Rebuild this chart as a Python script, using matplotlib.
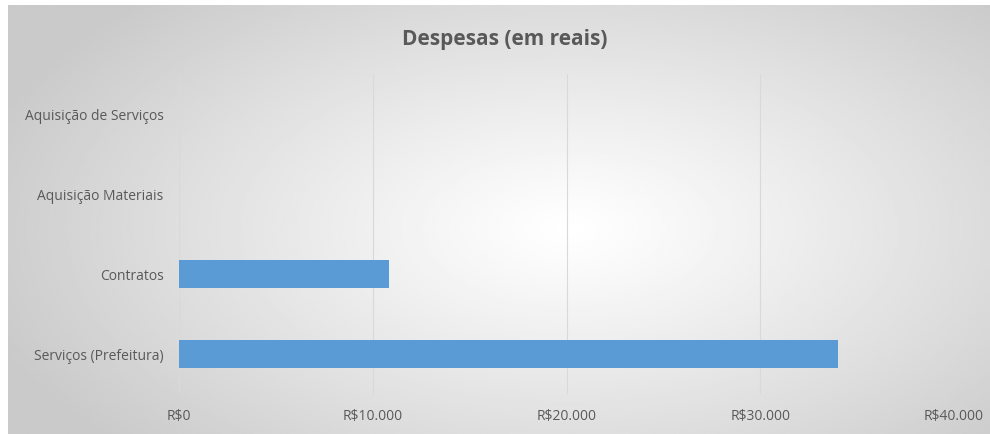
import numpy as np
import matplotlib.pyplot as plt

# data
categories = ["Serviços (Prefeitura)", "Contratos", "Aquisição Materiais", "Aquisição de Serviços"]
values = [34000, 10850, 0, 0]
xticks = [0, 10000, 20000, 30000, 40000]
xticklabels = ["R$0", "R$10.000", "R$20.000", "R$30.000", "R$40.000"]

W, H = 990, 435
fig = plt.figure(figsize=(W / 100, H / 100), dpi=100)
fig.patch.set_facecolor("white")

# chart area with radial gradient background
bg = fig.add_axes([8 / W, 0, 1 - 8 / W, 1 - 6 / H])
yy, xx = np.mgrid[0:200, 0:400]
cx, cy = 0.57 * 400, 0.52 * 200
r = np.sqrt(((xx - cx) / 250) ** 2 + ((yy - cy) / 150) ** 2)
shade = 1 - 0.21 * np.clip(r, 0, 1) ** 1.1
bg.imshow(shade, cmap="gray", vmin=0, vmax=1, aspect="auto", extent=[0, 1, 0, 1])
bg.set_axis_off()
bg.set_zorder(0)

plt.rcParams["font.family"] = ["Open Sans", "DejaVu Sans"]
ax = fig.add_axes([179 / W, 1 - 395 / H, (954 - 179) / W, 320 / H])
ax.set_zorder(1)
ax.patch.set_alpha(0)

ypos = np.arange(len(categories))
ax.barh(ypos, values, height=0.35, color="#5b9bd5", zorder=3)
ax.set_xlim(0, 40000)
ax.set_ylim(-0.5, len(categories) - 0.5)
ax.set_yticks(ypos)
ax.set_yticklabels(categories, fontsize=10, color="#595959")
ax.set_xticks(xticks)
ax.set_xticklabels(xticklabels, fontsize=10, color="#595959")
ax.tick_params(length=0)
ax.tick_params(axis="x", pad=10)
ax.tick_params(axis="y", pad=11)
ax.grid(axis="x", color="#d9d9d9", linewidth=0.8, zorder=0)
for s in ax.spines.values():
    s.set_visible(False)

fig.text(505 / W, 1 - 40 / H, "Despesas (em reais)", ha="center", va="center",
         fontsize=15, fontweight="bold", color="#595959")

fig.savefig("out.png", dpi=100)
